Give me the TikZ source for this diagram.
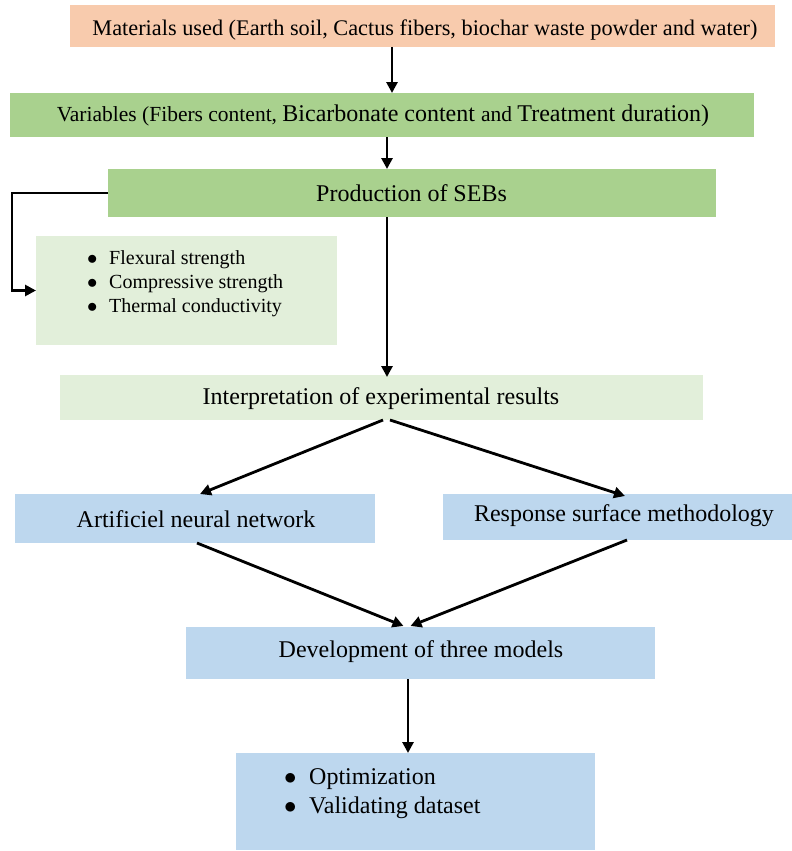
\documentclass[tikz,border=0pt]{standalone}
\usepackage{fontspec}
\setmainfont{Liberation Serif}
\usetikzlibrary{arrows.meta}
\definecolor{salmon}{HTML}{F8CBAD}
\definecolor{green1}{HTML}{A9D18E}
\definecolor{green2}{HTML}{E2EFDA}
\definecolor{blue1}{HTML}{BDD7EE}
\tikzset{
  box/.style={draw=none, inner sep=0pt, outer sep=0pt},
  txt/.style={inner sep=0pt, font=\fontsize{24}{28}\selectfont},
  arr/.style={line width=2.8pt, -{Triangle[length=11pt,width=11pt]}},
  bl/.style={inner sep=0pt, anchor=west, align=left},
}
\begin{document}
\begin{tikzpicture}[x=1pt,y=-1pt]
\useasboundingbox (0,0) rectangle (792,851);
% boxes
\node[box, fill=salmon, minimum width=705pt, minimum height=42pt] (m) at (422.5,26) {};
\node[box, fill=green1, minimum width=744pt, minimum height=44pt] (var) at (382,115) {};
\node[box, fill=green1, minimum width=608pt, minimum height=48pt] (prod) at (412,193) {};
\node[box, fill=green2, minimum width=301pt, minimum height=109pt] (bul) at (186.5,290.5) {};
\node[box, fill=green2, minimum width=643pt, minimum height=45pt] (interp) at (381.5,397.5) {};
\node[box, fill=blue1, minimum width=360pt, minimum height=49pt] (ann) at (195,518.5) {};
\node[box, fill=blue1, minimum width=349pt, minimum height=46pt] (rsm) at (617.5,517) {};
\node[box, fill=blue1, minimum width=469pt, minimum height=52pt] (dev) at (420.5,653) {};
\node[box, fill=blue1, minimum width=359pt, minimum height=97pt] (opt) at (415.5,801.5) {};
% texts
\node[txt, font=\fontsize{22.3}{26}\selectfont] (tm) at (425,30) {Materials used (Earth soil, Cactus fibers, biochar waste powder and water)};
\node[txt] (tv) at (383,116) {{\fontsize{21.5}{26}\selectfont Variables (Fibers content, }Bicarbonate content {\fontsize{21.5}{26}\selectfont and }Treatment duration)};
\node[txt] (tp) at (411.5,193) {Production of SEBs};
\node[bl, font=\fontsize{20}{24}\selectfont] (tb1) at (87,260) {\makebox[22pt][l]{$\bullet$}Flexural strength};
\node[bl, font=\fontsize{20}{24}\selectfont] (tb2) at (87,284) {\makebox[22pt][l]{$\bullet$}Compressive strength};
\node[bl, font=\fontsize{20}{24}\selectfont] (tb3) at (87,308) {\makebox[22pt][l]{$\bullet$}Thermal conductivity};
\node[txt] (ti) at (381,399) {Interpretation of experimental results};
\node[txt] (ta) at (196,519) {Artificiel neural network};
\node[txt] (tr) at (624,516) {Response surface methodology};
\node[txt] (td) at (421,652) {Development of three models};
\node[bl, font=\fontsize{24}{28}\selectfont] (to1) at (284,779) {\makebox[25pt][l]{$\bullet$}Optimization};
\node[bl, font=\fontsize{24}{28}\selectfont] (to2) at (284,808) {\makebox[25pt][l]{$\bullet$}Validating dataset};
% connectors
\draw[arr] ([xshift=-30.5pt]m.south) coordinate (a1) -- (a1 |- var.north);
\draw[arr] ([xshift=5pt]var.south) coordinate (a2) -- (a2 |- prod.north);
\draw[arr] ([xshift=-25pt]prod.south) coordinate (a3) -- ([yshift=-2pt]a3 |- interp.north);
\draw[arr] (prod.west) -- (12,193) -- (12,290.5) -- (bul.west);
\draw[arr] ([xshift=1.5pt]interp.south) -- ([xshift=5pt]ann.north);
\draw[arr] ([xshift=8.5pt]interp.south) -- ([xshift=7.5pt,yshift=-2pt]rsm.north);
\draw[arr] ([xshift=2pt]ann.south) -- ([xshift=-17pt,yshift=1pt]dev.north);
\draw[arr] ([xshift=9.5pt]rsm.south) -- ([xshift=-10pt,yshift=1pt]dev.north);
\draw[arr] ([xshift=-12.5pt]dev.south) coordinate (a9) -- (a9 |- opt.north);
\end{tikzpicture}
\end{document}
